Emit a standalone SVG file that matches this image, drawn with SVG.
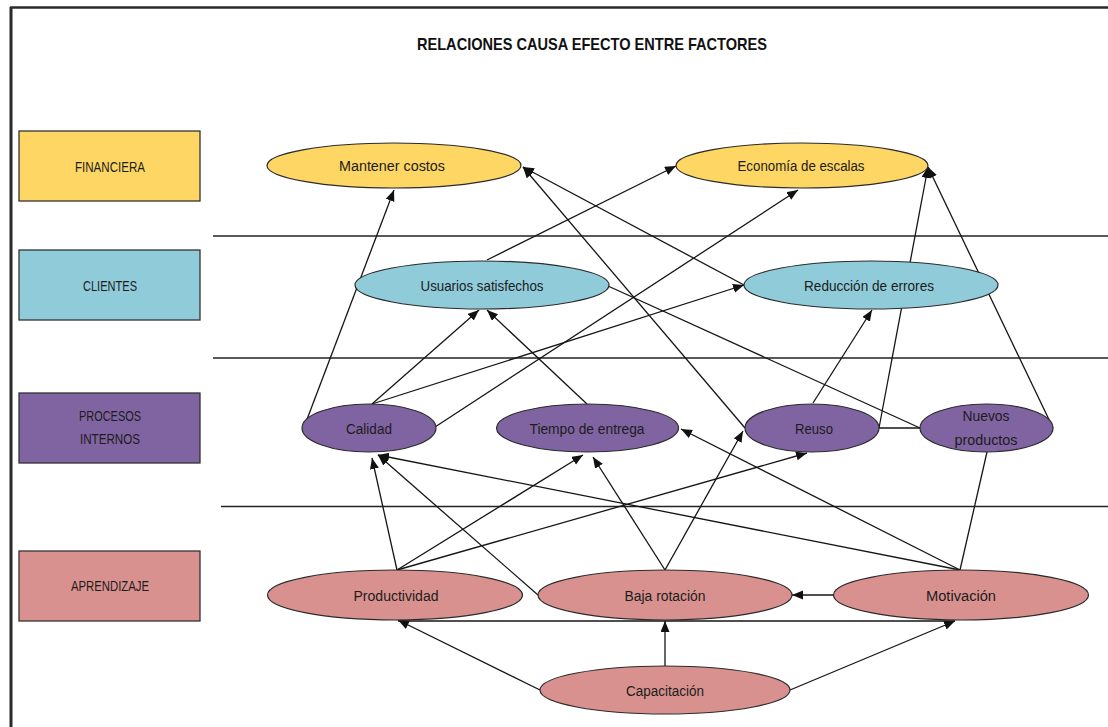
<svg xmlns="http://www.w3.org/2000/svg" width="1108" height="727" viewBox="0 0 1108 727">
  <defs>
    <marker id="arrow" markerUnits="userSpaceOnUse" markerWidth="12" markerHeight="10" refX="11" refY="4.5" orient="auto">
      <path d="M0,0 L11,4.5 L0,9 z" fill="#111"/>
    </marker>
    <style>
      .frame { stroke: #2a2a2a; fill: none; }
      .divider { stroke: #222; stroke-width: 1.3; }
      .box { stroke: #333; stroke-width: 1.3; }
      .node { stroke: #2b2b2b; stroke-width: 1.2; }
      .fin { fill: #FDD663; }
      .cli { fill: #90CBDA; }
      .pro { fill: #8064A2; }
      .apr { fill: #D9918F; }
      text { font-family: "Liberation Sans", Arial, sans-serif; fill: #1c1c1c; text-anchor: middle; }
      .lbl { font-size: 15.5px; }
      .cat { font-size: 15px; }
      .title { font-size: 17px; font-weight: bold; fill: #111; }
      .edge { stroke: #151515; stroke-width: 1.3; fill: none; }
      .arr { marker-end: url(#arrow); }
    </style>
  </defs>

  <rect x="0" y="0" width="1108" height="727" fill="#ffffff"/>

  <!-- outer frame (top and left edges) -->
  <line class="frame" x1="10" y1="7.5" x2="1108" y2="7.5" stroke-width="2.5"/>
  <line class="frame" x1="11" y1="7" x2="11" y2="727" stroke-width="3" stroke="#111"/>

  <text class="title" x="592" y="49.5" textLength="350" lengthAdjust="spacingAndGlyphs">RELACIONES CAUSA EFECTO ENTRE FACTORES</text>

  <!-- band dividers -->
  <g id="dividers">
    <line class="divider" x1="213" y1="236" x2="1108" y2="236"/>
    <line class="divider" x1="213" y1="358" x2="1108" y2="358"/>
    <line class="divider" x1="221" y1="506.5" x2="1108" y2="506.5"/>
  </g>

  <!-- perspective labels -->
  <g id="cat-financiera">
    <rect class="box fin" x="19" y="131" width="181" height="70"/>
    <text class="cat" x="110" y="171.5" textLength="70" lengthAdjust="spacingAndGlyphs">FINANCIERA</text>
  </g>
  <g id="cat-clientes">
    <rect class="box cli" x="19" y="250" width="181" height="70"/>
    <text class="cat" x="110" y="290.5" textLength="54" lengthAdjust="spacingAndGlyphs">CLIENTES</text>
  </g>
  <g id="cat-procesos">
    <rect class="box pro" x="19" y="393" width="181" height="70"/>
    <text class="cat" x="110" y="420.5" textLength="62" lengthAdjust="spacingAndGlyphs">PROCESOS</text>
    <text class="cat" x="110" y="443.5" textLength="60" lengthAdjust="spacingAndGlyphs">INTERNOS</text>
  </g>
  <g id="cat-aprendizaje">
    <rect class="box apr" x="19" y="551" width="181" height="70"/>
    <text class="cat" x="110" y="590.5" textLength="78" lengthAdjust="spacingAndGlyphs">APRENDIZAJE</text>
  </g>

  <!-- cause-effect connectors -->
  <g id="connectors">
    <line class="edge arr" x1="306" y1="422" x2="394" y2="190"/>
    <line class="edge arr" x1="487" y1="260" x2="676" y2="166"/>
    <line class="edge arr" x1="372" y1="404" x2="479" y2="310"/>
    <line class="edge arr" x1="372" y1="404" x2="744" y2="285"/>
    <line class="edge arr" x1="435" y1="427" x2="798" y2="190"/>
    <line class="edge arr" x1="587" y1="404" x2="487" y2="310"/>
    <line class="edge arr" x1="745" y1="428" x2="523" y2="167"/>
    <line class="edge arr" x1="744" y1="285" x2="523" y2="167"/>
    <line class="edge" x1="608" y1="286" x2="920" y2="428"/>
    <line class="edge" x1="878" y1="428" x2="920" y2="428"/>
    <line class="edge arr" x1="879" y1="428" x2="928" y2="167"/>
    <line class="edge arr" x1="1053" y1="428" x2="928" y2="167"/>
    <line class="edge arr" x1="813" y1="403" x2="872" y2="310"/>
    <line class="edge" x1="987" y1="452" x2="960" y2="570"/>
    <line class="edge arr" x1="397" y1="570" x2="372" y2="458"/>
    <line class="edge arr" x1="397" y1="570" x2="583" y2="455"/>
    <line class="edge arr" x1="397" y1="570" x2="807" y2="453"/>
    <line class="edge arr" x1="538" y1="595" x2="378" y2="455"/>
    <line class="edge arr" x1="960" y1="570" x2="378" y2="455"/>
    <line class="edge arr" x1="665" y1="570" x2="593" y2="457"/>
    <line class="edge arr" x1="665" y1="570" x2="743" y2="431"/>
    <line class="edge arr" x1="960" y1="570" x2="681" y2="429"/>
    <line class="edge arr" x1="833" y1="595" x2="792" y2="595"/>
    <line class="edge arr" x1="540" y1="690" x2="398" y2="620"/>
    <line class="edge arr" x1="665" y1="666" x2="665" y2="621"/>
    <line class="edge arr" x1="790" y1="690" x2="955" y2="621"/>
    <line class="edge" x1="398" y1="621" x2="955" y2="621"/>
  </g>

  <!-- FINANCIERA -->
  <g id="mantener-costos">
    <ellipse class="node fin" cx="394" cy="165.5" rx="127" ry="22.5"/>
    <text class="lbl" x="392" y="171" textLength="106" lengthAdjust="spacingAndGlyphs">Mantener costos</text>
  </g>
  <g id="economia-escalas">
    <ellipse class="node fin" cx="802" cy="165.5" rx="126" ry="22.5"/>
    <text class="lbl" x="801" y="171" textLength="127" lengthAdjust="spacingAndGlyphs">Economía de escalas</text>
  </g>

  <!-- CLIENTES -->
  <g id="usuarios-satisfechos">
    <ellipse class="node cli" cx="482" cy="285" rx="127" ry="24"/>
    <text class="lbl" x="482" y="290.5" textLength="123" lengthAdjust="spacingAndGlyphs">Usuarios satisfechos</text>
  </g>
  <g id="reduccion-errores">
    <ellipse class="node cli" cx="871" cy="285" rx="127" ry="24"/>
    <text class="lbl" x="869" y="290.5" textLength="130" lengthAdjust="spacingAndGlyphs">Reducción de errores</text>
  </g>

  <!-- PROCESOS INTERNOS -->
  <g id="calidad">
    <ellipse class="node pro" cx="369" cy="428" rx="67" ry="24"/>
    <text class="lbl" x="369" y="433.5" textLength="46" lengthAdjust="spacingAndGlyphs">Calidad</text>
  </g>
  <g id="tiempo-entrega">
    <ellipse class="node pro" cx="587.5" cy="428" rx="91" ry="24"/>
    <text class="lbl" x="587" y="433.5" textLength="115" lengthAdjust="spacingAndGlyphs">Tiempo de entrega</text>
  </g>
  <g id="reuso">
    <ellipse class="node pro" cx="812" cy="428" rx="67" ry="24"/>
    <text class="lbl" x="814" y="433.5" textLength="38" lengthAdjust="spacingAndGlyphs">Reuso</text>
  </g>
  <g id="nuevos-productos">
    <ellipse class="node pro" cx="986.5" cy="428" rx="66.5" ry="24"/>
    <text class="lbl" x="986" y="420.5" textLength="47" lengthAdjust="spacingAndGlyphs">Nuevos</text>
    <text class="lbl" x="986" y="444.5" textLength="63" lengthAdjust="spacingAndGlyphs">productos</text>
  </g>

  <!-- APRENDIZAJE -->
  <g id="productividad">
    <ellipse class="node apr" cx="395" cy="595" rx="127.5" ry="25"/>
    <text class="lbl" x="396" y="600.5" textLength="85" lengthAdjust="spacingAndGlyphs">Productividad</text>
  </g>
  <g id="baja-rotacion">
    <ellipse class="node apr" cx="665" cy="595" rx="127" ry="25"/>
    <text class="lbl" x="665" y="600.5" textLength="81" lengthAdjust="spacingAndGlyphs">Baja rotación</text>
  </g>
  <g id="motivacion">
    <ellipse class="node apr" cx="961" cy="595" rx="127.5" ry="25"/>
    <text class="lbl" x="961" y="600.5" textLength="70" lengthAdjust="spacingAndGlyphs">Motivación</text>
  </g>
  <g id="capacitacion">
    <ellipse class="node apr" cx="665" cy="690" rx="125" ry="24"/>
    <text class="lbl" x="665" y="695.5" textLength="78" lengthAdjust="spacingAndGlyphs">Capacitación</text>
  </g>
</svg>
